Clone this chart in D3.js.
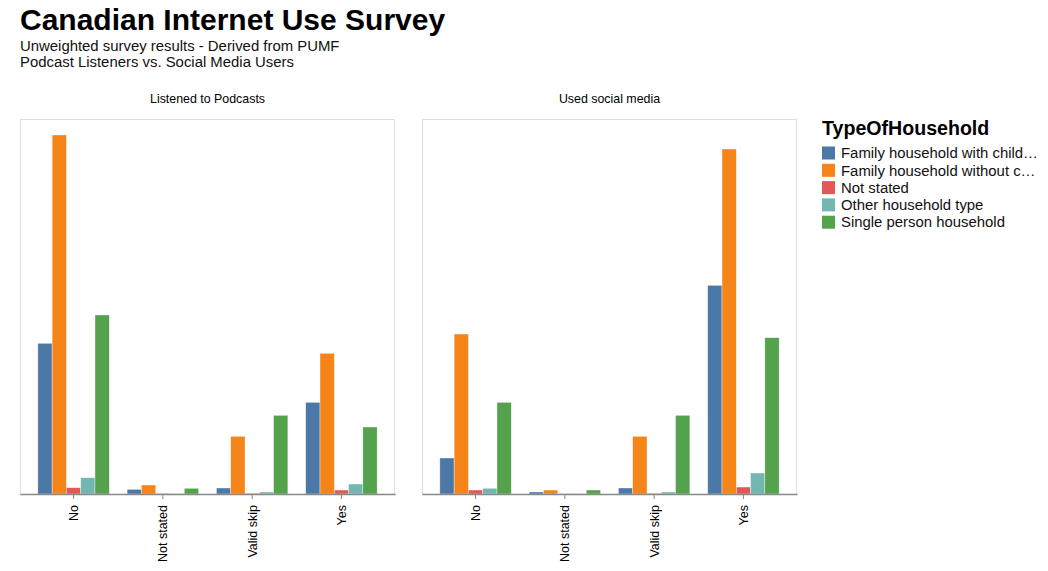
<!DOCTYPE html>
<html>
<head>
<meta charset="utf-8">
<script src="https://cdn.jsdelivr.net/npm/d3@7"></script>
<style>
  body { margin: 0; background: #fff; }
  text { font-family: "Liberation Sans", Arial, sans-serif; }
</style>
</head>
<body>
<svg id="chart" width="1048" height="571"></svg>
<script>
// ---- data ----
const titleText = "Canadian Internet Use Survey";
const subtitleLines = ["Unweighted survey results - Derived from PUMF", "Podcast Listeners vs. Social Media Users"];
const facets = ["Listened to Podcasts", "Used social media"];
const categories = ["No", "Not stated", "Valid skip", "Yes"];
const households = ["Family household with children", "Family household without children", "Not stated", "Other household type", "Single person household"];
const colors = ["#4c78a8", "#f58518", "#e45756", "#72b7b2", "#54a24b"];
// counts per category (No, Not stated, Valid skip, Yes)
const podcastFamWithChildren    = [2009, 62, 80, 1222];
const podcastFamWithoutChildren = [4787, 120, 769, 1876];
const podcastNotStated          = [84, 8, 10, 53];
const podcastOther              = [218, 6, 27, 133];
const podcastSingle             = [2387, 76, 1049, 893];
const socialFamWithChildren     = [480, 27, 80, 2782];
const socialFamWithoutChildren  = [2133, 53, 769, 4600];
const socialNotStated           = [53, 3, 10, 93];
const socialOther               = [76, 3, 27, 280];
const socialSingle              = [1222, 53, 1049, 2084];
const yDomainMax = 5000;

const facetValues = [
  [podcastFamWithChildren, podcastFamWithoutChildren, podcastNotStated, podcastOther, podcastSingle],
  [socialFamWithChildren, socialFamWithoutChildren, socialNotStated, socialOther, socialSingle]
];

// ---- layout ----
const svg = d3.select("#chart");
const panelW = 375, panelH = 375, panelTop = 119;
const panelLefts = [20, 422];

svg.append("text").attr("x", 20).attr("y", 30)
  .attr("font-size", 30).attr("font-weight", "bold").attr("fill", "#000")
  .text(titleText);
subtitleLines.forEach((s, i) => {
  svg.append("text").attr("x", 20).attr("y", 50.5 + i * 16.8)
    .attr("font-size", 14.9).attr("fill", "#111").text(s);
});

const color = d3.scaleOrdinal().domain(households).range(colors);
const x = d3.scaleBand().domain(categories).range([0, panelW]).paddingInner(0.2).paddingOuter(0.2);
const xOff = d3.scaleBand().domain(households).range([0, x.bandwidth()]);
const y = d3.scaleLinear().domain([0, yDomainMax]).range([panelH, 0]);

facets.forEach((f, fi) => {
  const g = svg.append("g").attr("transform", `translate(${panelLefts[fi]},${panelTop})`);
  g.append("text").attr("x", panelW / 2).attr("y", -16)
    .attr("text-anchor", "middle").attr("font-size", 12.4).attr("fill", "#000").text(f);
  g.append("rect").attr("x", 0.5).attr("y", 0.5).attr("width", panelW - 1).attr("height", panelH)
    .attr("fill", "none").attr("stroke", "#ddd");

  const rows = [];
  households.forEach((h, hi) => {
    categories.forEach((c, ci) => rows.push({ h, c, v: facetValues[fi][hi][ci] }));
  });
  g.selectAll("rect.bar").data(rows).join("rect").attr("class", "bar")
    .attr("x", d => x(d.c) + xOff(d.h))
    .attr("width", xOff.bandwidth())
    .attr("y", d => y(d.v))
    .attr("height", d => panelH - y(d.v))
    .attr("fill", d => color(d.h))
    .attr("stroke", "#fff").attr("stroke-opacity", 0.6).attr("stroke-width", 0.6);

  const axis = g.append("g").attr("transform", `translate(0,${panelH})`)
    .call(d3.axisBottom(x).tickSize(5).tickPadding(0).tickSizeOuter(0));
  axis.select(".domain").attr("stroke", "#888").attr("stroke-width", 1.5);
  axis.selectAll(".tick line").attr("stroke", "#888");
  axis.selectAll(".tick text")
    .attr("font-size", 12.5).attr("font-family", "Liberation Sans, Arial, sans-serif").attr("fill", "#000")
    .attr("transform", "translate(0,11) rotate(-90)")
    .attr("text-anchor", "end").attr("dy", "0.35em").attr("x", 0).attr("y", 0);
});

// legend
const lg = svg.append("g").attr("transform", "translate(822,0)");
lg.append("text").attr("x", 0).attr("y", 135).attr("font-size", 19.6).attr("font-weight", "bold")
  .attr("fill", "#000").text("TypeOfHousehold");
households.forEach((h, i) => {
  const cy = 153 + i * 17.3;
  lg.append("rect").attr("x", 0).attr("y", cy - 6.5).attr("width", 13).attr("height", 13)
    .attr("fill", color(h));
  const t = lg.append("text").attr("x", 19).attr("y", cy).attr("dy", "0.35em")
    .attr("font-size", 14.9).attr("fill", "#111").text(h);
  const limit = 200;
  if (t.node().getComputedTextLength() > limit) {
    let s = h;
    while (s.length > 0) {
      s = s.slice(0, -1);
      t.text(s + "…");
      if (t.node().getComputedTextLength() <= limit) break;
    }
  }
});
</script>
</body>
</html>
